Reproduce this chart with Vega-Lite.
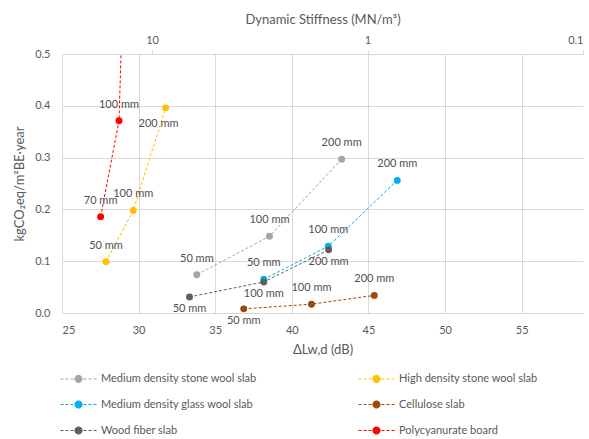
{
  "$schema": "https://vega.github.io/schema/vega-lite/v6.json",
  "autosize": {"type": "none"},
  "width": 521,
  "height": 259,
  "padding": {"left": 62, "top": 54, "right": 6, "bottom": 126},
  "background": "white",
  "config": {
    "font": "Lato",
    "view": {"stroke": null},
    "axis": {"labelColor": "#595959", "titleColor": "#595959", "labelFontSize": 11, "titleFontSize": 13, "titleFontWeight": "normal", "gridColor": "#d9d9d9", "domain": false, "ticks": false, "tickSize": 0}
  },
  "datasets": {
    "main": [
      {"series": "Medium density stone wool slab", "dlw": 33.8, "co2": 0.074, "mm": 50, "label": "50 mm"},
      {"series": "Medium density stone wool slab", "dlw": 38.54, "co2": 0.148, "mm": 100, "label": "100 mm"},
      {"series": "Medium density stone wool slab", "dlw": 43.25, "co2": 0.297, "mm": 200, "label": "200 mm"},
      {"series": "High density stone wool slab", "dlw": 27.87, "co2": 0.099, "mm": 50, "label": "50 mm"},
      {"series": "High density stone wool slab", "dlw": 29.65, "co2": 0.198, "mm": 100, "label": "100 mm"},
      {"series": "High density stone wool slab", "dlw": 31.76, "co2": 0.396, "mm": 200, "label": "200 mm"},
      {"series": "Medium density glass wool slab", "dlw": 38.17, "co2": 0.065, "mm": 50, "label": "50 mm"},
      {"series": "Medium density glass wool slab", "dlw": 42.38, "co2": 0.129, "mm": 100, "label": "100 mm"},
      {"series": "Medium density glass wool slab", "dlw": 46.88, "co2": 0.256, "mm": 200, "label": "200 mm"},
      {"series": "Cellulose slab", "dlw": 36.86, "co2": 0.008, "mm": 50, "label": "50 mm"},
      {"series": "Cellulose slab", "dlw": 41.28, "co2": 0.017, "mm": 100, "label": "100 mm"},
      {"series": "Cellulose slab", "dlw": 45.38, "co2": 0.034, "mm": 200, "label": "200 mm"},
      {"series": "Wood fiber slab", "dlw": 33.32, "co2": 0.031, "mm": 50, "label": "50 mm"},
      {"series": "Wood fiber slab", "dlw": 38.17, "co2": 0.06, "mm": 100, "label": "100 mm"},
      {"series": "Wood fiber slab", "dlw": 42.4, "co2": 0.122, "mm": 200, "label": "200 mm"},
      {"series": "Polycyanurate board", "dlw": 27.52, "co2": 0.186, "mm": 70, "label": "70 mm"},
      {"series": "Polycyanurate board", "dlw": 28.72, "co2": 0.371, "mm": 100, "label": "100 mm"},
      {"series": "Polycyanurate board", "dlw": 29.1, "co2": 0.74, "mm": 200, "label": "200 mm"}
    ],
    "stiff": [{"s": 10}, {"s": 1}, {"s": 0.1}]
  },
  "layer": [
    {
      "layer": [
        {
          "data": {"name": "main"},
          "mark": {"type": "line", "strokeDash": [3, 2], "strokeWidth": 1, "clip": true},
          "encoding": {
            "x": {"field": "dlw", "type": "quantitative", "scale": {"domain": [25, 59], "nice": false, "zero": false}, "axis": {"values": [25, 30, 35, 40, 45, 50, 55], "title": "ΔLw,d (dB)", "labelPadding": 11, "titlePadding": 8}},
            "y": {"field": "co2", "type": "quantitative", "scale": {"domain": [0, 0.5], "nice": false}, "axis": {"values": [0, 0.1, 0.2, 0.3, 0.4, 0.5], "title": "kgCO₂eq/m²BE·year", "labelPadding": 12, "titlePadding": 8}},
            "color": {"field": "series", "type": "nominal", "scale": {"domain": ["Medium density stone wool slab", "High density stone wool slab", "Medium density glass wool slab", "Cellulose slab", "Wood fiber slab", "Polycyanurate board"], "range": ["#a5a5a5", "#ffc000", "#00b0f0", "#9e480e", "#5f5f5f", "#ff0000"]},
              "legend": {"orient": "none", "direction": "horizontal", "legendX": 10, "legendY": 318, "columns": 2, "columnPadding": 99, "rowPadding": 13, "title": null, "labelFontSize": 11, "labelColor": "#595959", "symbolType": "M-3,0H-2.5M-2.17,0H-1.67M-1.33,0H-0.83M0.83,0H1.33M1.67,0H2.17M2.5,0H3M-0.6,0A0.6,0.6,0,1,1,0.6,0A0.6,0.6,0,1,1,-0.6,0Z", "symbolSize": 144, "symbolStrokeWidth": 1, "labelOffset": 16}},
            "order": {"field": "mm", "type": "quantitative"}
          }
        },
        {
          "data": {"name": "main"},
          "mark": {"type": "point", "filled": true, "size": 48, "opacity": 1, "clip": true},
          "encoding": {
            "x": {"field": "dlw", "type": "quantitative"},
            "y": {"field": "co2", "type": "quantitative"},
            "color": {"field": "series", "type": "nominal"}
          }
        },
        {
          "data": {"name": "main"},
          "transform": [{"filter": "datum.co2 <= 0.5 && datum.series != 'Wood fiber slab' && !(datum.series == 'Cellulose slab' && datum.mm == 50) && !(datum.series == 'High density stone wool slab' && datum.mm == 200)"}],
          "mark": {"type": "text", "fontSize": 11, "color": "#505050", "baseline": "middle", "dy": -16},
          "encoding": {
            "x": {"field": "dlw", "type": "quantitative"},
            "y": {"field": "co2", "type": "quantitative"},
            "text": {"field": "label"}
          }
        },
        {
          "data": {"name": "main"},
          "transform": [{"filter": "datum.series == 'Wood fiber slab' || (datum.series == 'Cellulose slab' && datum.mm == 50)"}],
          "mark": {"type": "text", "fontSize": 11, "color": "#505050", "baseline": "middle", "dy": 12},
          "encoding": {
            "x": {"field": "dlw", "type": "quantitative"},
            "y": {"field": "co2", "type": "quantitative"},
            "text": {"field": "label"}
          }
        },
        {
          "data": {"name": "main"},
          "transform": [{"filter": "datum.series == 'High density stone wool slab' && datum.mm == 200"}],
          "mark": {"type": "text", "fontSize": 11, "color": "#505050", "baseline": "middle", "dy": 16, "dx": -7},
          "encoding": {
            "x": {"field": "dlw", "type": "quantitative"},
            "y": {"field": "co2", "type": "quantitative"},
            "text": {"field": "label"}
          }
        }
      ]
    },
    {
      "data": {"name": "stiff"},
      "mark": {"type": "point", "opacity": 0},
      "encoding": {
        "x": {"field": "s", "type": "quantitative", "scale": {"type": "log", "domain": [0.1, 26.2], "reverse": true, "nice": false}, "axis": {"orient": "top", "values": [10, 1, 0.1], "grid": false, "ticks": true, "tickSize": 4, "tickColor": "#d9d9d9", "labelPadding": 5, "title": "Dynamic Stiffness (MN/m³)", "titlePadding": 8, "format": "~g"}}
      }
    }
  ],
  "resolve": {"scale": {"x": "independent"}, "axis": {"x": "independent"}}
}
